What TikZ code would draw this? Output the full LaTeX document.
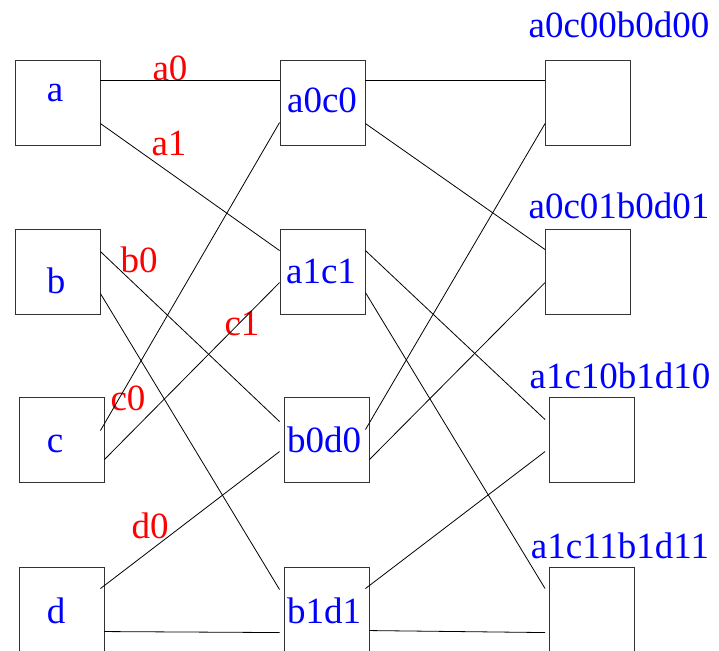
\documentclass[tikz,border=0pt]{standalone}
\usepackage{fontspec}
\setmainfont{Liberation Serif}
\begin{document}
\begin{tikzpicture}[x=1pt,y=-1pt,
  box/.style={draw=black!80,line width=0.9pt,minimum width=85pt,minimum height=85pt,inner sep=0pt},
  blab/.style={anchor=base,inner sep=0pt,text=blue,font=\fontsize{37}{44}\selectfont},
  rlab/.style={anchor=base,inner sep=0pt,text=red,font=\fontsize{37}{44}\selectfont},
  wire/.style={draw=black,line width=0.8pt}]
\useasboundingbox (0,0) rectangle (719,650);
% boxes
\node[box] (a) at (57.5,102.5) {};
\node[box] (b) at (57.5,271.5) {};
\node[box] (c) at (61.5,439.5) {};
\node[box] (d) at (61.5,609.5) {};
\node[box] (m1) at (322.5,102.5) {};
\node[box] (m2) at (322.5,271.5) {};
\node[box] (m3) at (326.5,439.5) {};
\node[box] (m4) at (326.5,609.5) {};
\node[box] (r1) at (588,102.5) {};
\node[box] (r2) at (588,271.5) {};
\node[box] (r3) at (592,439.5) {};
\node[box] (r4) at (592,609.5) {};
% box texts
\node[blab] (ta) at (55,102) {a};
\node[blab] (tb) at (56,293) {b};
\node[blab] (tc) at (55,452) {c};
\node[blab] (td) at (56,623) {d};
\node[blab] (tm1) at (322,112) {a0c0};
\node[blab] (tm2) at (321,283) {a1c1};
\node[blab] (tm3) at (324,452) {b0d0};
\node[blab] (tm4) at (324,623) {b1d1};
\node[blab] (tr1) at (619,38) {a0c00b0d00};
\node[blab] (tr2) at (619,218) {a0c01b0d01};
\node[blab] (tr3) at (620,388) {a1c10b1d10};
\node[blab] (tr4) at (620,558) {a1c11b1d11};
% edge labels
\node[rlab] (la0) at (170,81) {a0};
\node[rlab] (la1) at (169,155) {a1};
\node[rlab] (lb0) at (139,272) {b0};
\node[rlab] (lc1) at (242,335) {c1};
\node[rlab] (lc0) at (128,410) {c0};
\node[rlab] (ld0) at (150,538) {d0};
% connectors left -> middle
\draw[wire] ([yshift=-21pt]a.north east) -- ([yshift=-21pt]m1.north west);
\draw[wire] ([yshift=-64pt]a.north east) -- ([yshift=-22pt]m2.north west);
\draw[wire] ([yshift=-23pt]b.north east) -- ([xshift=-4pt,yshift=-25pt]m3.north west);
\draw[wire] ([yshift=-65pt]b.north east) -- ([xshift=-4pt,yshift=-23pt]m4.north west);
\draw[wire] ([xshift=-4pt,yshift=-34pt]c.north east) -- ([yshift=-63pt]m1.north west);
\draw[wire] ([yshift=-63pt]c.north east) -- ([yshift=-54pt]m2.north west);
\draw[wire] ([xshift=-4pt,yshift=-22pt]d.north east) -- ([xshift=-4pt,yshift=-55pt]m3.north west);
\draw[wire] ([yshift=-65pt]d.north east) -- ([xshift=-4pt,yshift=-66pt]m4.north west);
% connectors middle -> right
\draw[wire] ([yshift=-21pt]m1.north east) -- ([yshift=-21pt]r1.north west);
\draw[wire] ([yshift=-64pt]m1.north east) -- ([yshift=-21pt]r2.north west);
\draw[wire] ([yshift=-22pt]m2.north east) -- ([xshift=-4pt,yshift=-23pt]r3.north west);
\draw[wire] ([yshift=-64pt]m2.north east) -- ([xshift=-4pt,yshift=-22pt]r4.north west);
\draw[wire] ([xshift=-4pt,yshift=-33pt]m3.north east) -- ([yshift=-64pt]r1.north west);
\draw[wire] ([yshift=-63pt]m3.north east) -- ([yshift=-54pt]r2.north west);
\draw[wire] ([xshift=-4pt,yshift=-22pt]m4.north east) -- ([xshift=-4pt,yshift=-55pt]r3.north west);
\draw[wire] ([yshift=-64pt]m4.north east) -- ([xshift=-4pt,yshift=-66pt]r4.north west);
\end{tikzpicture}
\end{document}
